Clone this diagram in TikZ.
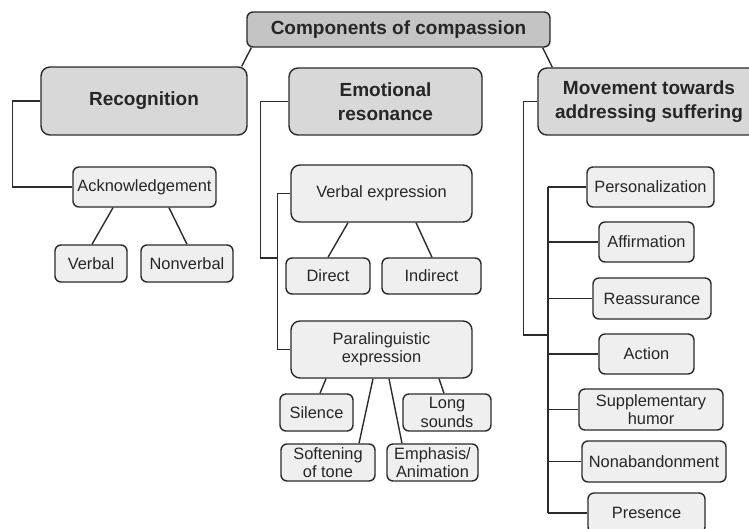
\documentclass[tikz,border=0pt]{standalone}
\usepackage{fontspec}
\setmainfont{Liberation Sans}
\usetikzlibrary{calc}
\definecolor{bordc}{HTML}{2B2B2B}
\definecolor{topfill}{HTML}{C4C4C4}
\definecolor{midfill}{HTML}{D8D8D8}
\definecolor{leaffill}{HTML}{EFEFEF}
\tikzset{
  basebox/.style={draw=bordc, line width=1.4pt, rectangle, inner sep=0pt, align=center, text=black!85},
  topbox/.style={basebox, fill=topfill, rounded corners=6pt, font=\fontsize{19}{23.5}\selectfont\bfseries},
  midbox/.style={basebox, fill=midfill, rounded corners=9pt, font=\fontsize{19}{23.5}\selectfont\bfseries},
  leafbox/.style={basebox, fill=leaffill, rounded corners=6pt, font=\fontsize{16.4}{18.5}\selectfont},
  conn/.style={draw=bordc, line width=1.4pt},
}
\begin{document}
\begin{tikzpicture}[x=1pt,y=-1pt]
\useasboundingbox (0,0) rectangle (749,529);
\clip (0,0) rectangle (749,529);
\fill[white] (0,0) rectangle (749,529);

% top
\node[topbox, minimum width=303, minimum height=35] (comp) at (398.5,29.5) {Components of compassion};
% level 1
\node[midbox, minimum width=206, minimum height=68] (recog) at (144,101) {Recognition};
\node[midbox, minimum width=193, minimum height=67] (emo) at (385.5,101.5) {Emotional\\resonance};
\node[midbox, minimum width=222, minimum height=67] (move) at (649,101.5) {Movement towards\\addressing suffering};

% recognition branch
\node[leafbox, minimum width=143, minimum height=40] (ack) at (144.5,187) {Acknowledgement};
\node[leafbox, minimum width=72, minimum height=37] (verbal) at (91,263.5) {Verbal};
\node[leafbox, minimum width=92, minimum height=37] (nonverbal) at (187,263.5) {Nonverbal};

% emotional resonance branch
\node[leafbox, minimum width=181, minimum height=57, rounded corners=9pt] (verbexp) at (381.5,193.5) {Verbal expression};
\node[leafbox, minimum width=84, minimum height=36] (direct) at (328,276) {Direct};
\node[leafbox, minimum width=99, minimum height=36] (indirect) at (431.5,276) {Indirect};
\node[leafbox, minimum width=181, minimum height=57, rounded corners=9pt] (para) at (381.5,349.5) {Paralinguistic\\expression};
\node[leafbox, minimum width=73, minimum height=37] (silence) at (316.5,412.5) {Silence};
\node[leafbox, minimum width=88, minimum height=37] (long) at (447,412.5) {Long\\sounds};
\node[leafbox, minimum width=94, minimum height=37] (soft) at (328,462.5) {Softening\\of tone};
\node[leafbox, minimum width=91, minimum height=37] (emph) at (432.5,462.5) {Emphasis/\\Animation};

% movement branch
\node[leafbox, minimum width=127, minimum height=40] (pers) at (650.5,187) {Personalization};
\node[leafbox, minimum width=95, minimum height=40] (affirm) at (646.5,242) {Affirmation};
\node[leafbox, minimum width=118, minimum height=41] (reass) at (652,298.5) {Reassurance};
\node[leafbox, minimum width=95, minimum height=40] (action) at (646.5,354) {Action};
\node[leafbox, minimum width=144, minimum height=41] (supp) at (651,409.5) {Supplementary\\humor};
\node[leafbox, minimum width=144, minimum height=41] (nonab) at (654,461.5) {Nonabandonment};
\node[leafbox, minimum width=117, minimum height=40] (pres) at (646.5,513) {Presence};

\coordinate (ebus) at (278,258);
\coordinate (mbus) at (548,335);

% connectors from top
\draw[conn] ($(comp.south west)+(5,0)$) -- ($(recog.north east)+(-6,0)$);
\draw[conn] ($(comp.south)+(-5.5,0)$) -- ($(comp.south)+(-5.5,0)$ |- emo.north);
\draw[conn] ($(comp.south east)+(-8,0)$) -- ($(move.north west)+(15,0)$);

% recognition
\draw[conn] (recog.west) -- ++(-28,0) |- (ack.west);
\draw[conn] ($(ack.south)+(-31.5,0)$) -- ($(verbal.north)+(1,0)$);
\draw[conn] ($(ack.south)+(24.5,0)$) -- (nonverbal.north);

% emotional resonance
\draw[conn] (emo.west) -- ++(-28,0) |- (ebus);
\draw[conn] (verbexp.west) -- ++(-13,0) |- (para.west);
\draw[conn] ($(verbexp.south)+(-33.5,0)$) -- (direct.north);
\draw[conn] ($(verbexp.south)+(34.5,0)$) -- ($(indirect.north)+(0.5,0)$);
\draw[conn] ($(para.south)+(-55.5,0)$) -- ($(silence.north)+(3.5,0)$);
\draw[conn] ($(para.south)+(-8.5,0)$) -- ($(soft.north)+(31,0)$);
\draw[conn] ($(para.south)+(7.5,0)$) -- ($(emph.north)+(-30.5,0)$);
\draw[conn] ($(para.south)+(57.5,0)$) -- ($(long.north)+(-3,0)$);

% movement
\draw[conn] (move.west) -- ++(-14,0) |- (mbus);
\draw[conn] (pers.west -| mbus) -- (pres.west -| mbus);
\foreach \n in {pers,affirm,reass,action,supp,nonab,pres}{
  \draw[conn] (\n.west) -- (\n.west -| mbus);
}
\end{tikzpicture}
\end{document}
